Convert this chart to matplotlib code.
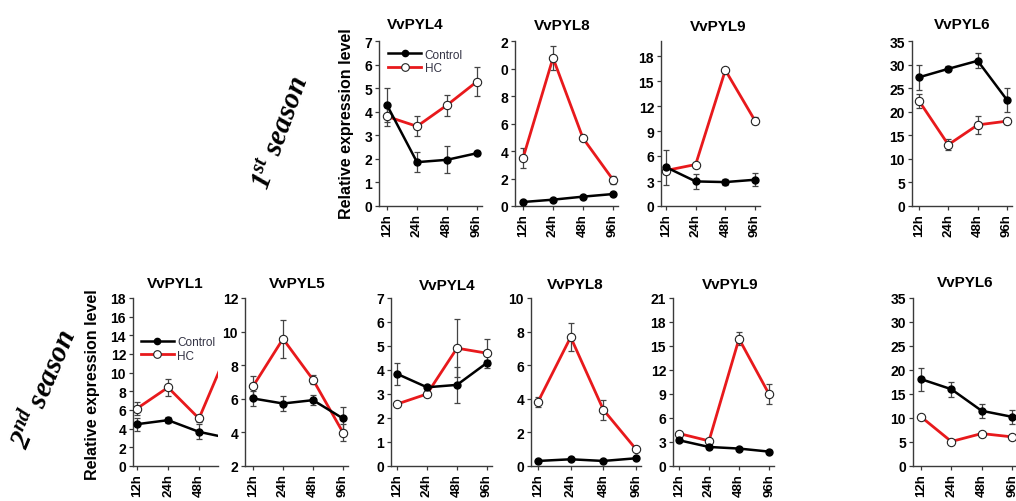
import matplotlib
matplotlib.use('Agg')
import matplotlib.pyplot as plt
from matplotlib.lines import Line2D

plt.rcParams['font.family'] = ['Liberation Sans', 'DejaVu Sans']
plt.rcParams['mathtext.fontset'] = 'custom'
plt.rcParams['mathtext.rm'] = 'Liberation Serif:bold:italic'
plt.rcParams['mathtext.it'] = 'Liberation Serif:bold:italic'
plt.rcParams['mathtext.bf'] = 'Liberation Serif:bold:italic'

# ---------------- data ----------------
times = ['12h', '24h', '48h', '96h']

# 1st season
s1_pyl4_control = [4.28, 1.86, 1.96, 2.24]
s1_pyl4_control_err = [0.72, 0.43, 0.58, 0.08]
s1_pyl4_hc = [3.80, 3.38, 4.28, 5.28]
s1_pyl4_hc_err = [0.40, 0.42, 0.45, 0.60]

s1_pyl8_control = [0.29, 0.46, 0.68, 0.87]
s1_pyl8_control_err = [0.05, 0.05, 0.06, 0.08]
s1_pyl8_hc = [3.48, 10.77, 4.93, 1.91]
s1_pyl8_hc_err = [0.75, 0.90, 0.10, 0.30]

s1_pyl9_control = [4.66, 2.95, 2.87, 3.15]
s1_pyl9_control_err = [2.10, 0.90, 0.40, 0.80]
s1_pyl9_hc = [4.26, 4.98, 16.30, 10.24]
s1_pyl9_hc_err = [0.40, 0.20, 0.20, 0.40]

s1_pyl6_control = [27.3, 29.1, 30.8, 22.5]
s1_pyl6_control_err = [2.6, 0.5, 1.6, 2.5]
s1_pyl6_hc = [22.3, 13.0, 17.2, 18.0]
s1_pyl6_hc_err = [1.5, 1.2, 1.9, 0.5]

# 2nd season
s2_pyl1_control = [4.48, 4.91, 3.66, 2.96]
s2_pyl1_control_err = [0.70, 0.30, 0.80, 0.30]
s2_pyl1_hc = [6.16, 8.42, 5.09, 12.9]
s2_pyl1_hc_err = [0.70, 0.90, 0.40, 0.50]

s2_pyl5_control = [6.02, 5.72, 5.92, 4.83]
s2_pyl5_control_err = [0.47, 0.42, 0.30, 0.70]
s2_pyl5_hc = [6.74, 9.57, 7.14, 3.99]
s2_pyl5_hc_err = [0.60, 1.15, 0.25, 0.50]

s2_pyl4_control = [3.84, 3.28, 3.38, 4.30]
s2_pyl4_control_err = [0.45, 0.10, 0.75, 0.10]
s2_pyl4_hc = [2.58, 3.00, 4.91, 4.70]
s2_pyl4_hc_err = [0.08, 0.10, 1.20, 0.60]

s2_pyl8_control = [0.30, 0.40, 0.30, 0.46]
s2_pyl8_control_err = [0.05, 0.05, 0.05, 0.05]
s2_pyl8_hc = [3.82, 7.67, 3.35, 1.00]
s2_pyl8_hc_err = [0.30, 0.85, 0.60, 0.10]

s2_pyl9_control = [3.22, 2.38, 2.18, 1.80]
s2_pyl9_control_err = [0.20, 0.20, 0.20, 0.20]
s2_pyl9_hc = [4.06, 3.14, 15.90, 9.00]
s2_pyl9_hc_err = [0.20, 0.20, 0.80, 1.20]

s2_pyl6_control = [18.1, 16.0, 11.5, 10.25]
s2_pyl6_control_err = [2.4, 1.6, 1.5, 1.4]
s2_pyl6_hc = [10.25, 5.1, 6.76, 6.07]
s2_pyl6_hc_err = [0.3, 0.3, 0.3, 0.3]

# y-axis ticks (visible labels as in the reference)
s1_pyl4_yticks = [0, 1, 2, 3, 4, 5, 6, 7]
s1_pyl8_yticks = [0, 2, 4, 6, 8, 10, 12]
s1_pyl8_ylabels = ['0', '2', '4', '6', '8', '0', '2']
s1_pyl9_yticks = [0, 3, 6, 9, 12, 15, 18]
s1_pyl6_yticks = [0, 5, 10, 15, 20, 25, 30, 35]
s2_pyl1_yticks = [0, 2, 4, 6, 8, 10, 12, 14, 16, 18]
s2_pyl5_yticks = [2, 4, 6, 8, 10, 12]
s2_pyl4_yticks = [0, 1, 2, 3, 4, 5, 6, 7]
s2_pyl8_yticks = [0, 2, 4, 6, 8, 10]
s2_pyl9_yticks = [0, 3, 6, 9, 12, 15, 18, 21]
s2_pyl6_yticks = [0, 5, 10, 15, 20, 25, 30, 35]

# ---------------- layout (pixels) ----------------
W, H = 1016, 502
fig = plt.figure(figsize=(W / 100, H / 100), dpi=100)

RED = '#e8191c'
AXC = '#3a3a3a'

panels = [
    # title, ctrl, ctrl_err, hc, hc_err, yticks, ylabels, ylim, L, a, b, R, top, bot, title_x, title_y
    ('VvPYL4', s1_pyl4_control, s1_pyl4_control_err, s1_pyl4_hc, s1_pyl4_hc_err,
     s1_pyl4_yticks, None, (0, 7), 379, 387, 477, 482, 42, 207, 415, 25),
    ('VvPYL8', s1_pyl8_control, s1_pyl8_control_err, s1_pyl8_hc, s1_pyl8_hc_err,
     s1_pyl8_yticks, s1_pyl8_ylabels, (0, 12), 515, 523, 613, 618, 42, 207, 562, 26),
    ('VvPYL9', s1_pyl9_control, s1_pyl9_control_err, s1_pyl9_hc, s1_pyl9_hc_err,
     s1_pyl9_yticks, None, (0, 19.8), 661, 666, 755, 760, 42, 207, 718, 27),
    ('VvPYL6', s1_pyl6_control, s1_pyl6_control_err, s1_pyl6_hc, s1_pyl6_hc_err,
     s1_pyl6_yticks, None, (0, 35), 912, 919, 1007, 1012, 42, 207, 962, 25),
    ('VvPYL1', s2_pyl1_control, s2_pyl1_control_err, s2_pyl1_hc, s2_pyl1_hc_err,
     s2_pyl1_yticks, None, (0, 18), 133, 137, 230, 218, 299, 467, 175, 284),
    ('VvPYL5', s2_pyl5_control, s2_pyl5_control_err, s2_pyl5_hc, s2_pyl5_hc_err,
     s2_pyl5_yticks, None, (2, 12), 245, 253, 343, 348, 299, 467, 297, 284),
    ('VvPYL4', s2_pyl4_control, s2_pyl4_control_err, s2_pyl4_hc, s2_pyl4_hc_err,
     s2_pyl4_yticks, None, (0, 7), 391, 397, 487, 492, 299, 467, 447, 286),
    ('VvPYL8', s2_pyl8_control, s2_pyl8_control_err, s2_pyl8_hc, s2_pyl8_hc_err,
     s2_pyl8_yticks, None, (0, 10), 531, 538, 636, 641, 299, 467, 575, 285),
    ('VvPYL9', s2_pyl9_control, s2_pyl9_control_err, s2_pyl9_hc, s2_pyl9_hc_err,
     s2_pyl9_yticks, None, (0, 21), 673, 679, 769, 774, 299, 467, 730, 285),
    ('VvPYL6', s2_pyl6_control, s2_pyl6_control_err, s2_pyl6_hc, s2_pyl6_hc_err,
     s2_pyl6_yticks, None, (0, 35), 913, 921, 1012, 1016, 299, 467, 965, 283),
]

xs = list(range(len(times)))
axes = []
for (title, ctrl, cerr, hc, herr, yt, yl, ylim, L, a, b, R, top, bot, tx, ty) in panels:
    ax = fig.add_axes([L / W, 1 - bot / H, (R - L) / W, (bot - top) / H])
    ax.patch.set_alpha(0)
    ax.errorbar(xs, ctrl, yerr=cerr, fmt='none', ecolor='#444444', elinewidth=0.9,
                capsize=2, capthick=0.9, zorder=2)
    ax.errorbar(xs, hc, yerr=herr, fmt='none', ecolor='#444444', elinewidth=0.9,
                capsize=2, capthick=0.9, zorder=2)
    ax.plot(xs, hc, color=RED, lw=2.0, marker='o', ms=6, mfc='white', mec='#222222',
            mew=0.8, zorder=3)
    ax.plot(xs, ctrl, color='black', lw=1.8, marker='o', ms=5, mfc='black', mec='black',
            zorder=4)
    for sp in ['top', 'right']:
        ax.spines[sp].set_visible(False)
    for sp in ['left', 'bottom']:
        ax.spines[sp].set_color(AXC)
        ax.spines[sp].set_linewidth(1.0)
    ax.set_xticks(xs)
    ax.set_xticklabels(times, rotation=90, fontsize=9.5, fontweight='bold')
    ax.set_yticks(yt)
    ax.set_yticklabels(yl if yl is not None else [str(v) for v in yt],
                       fontsize=10, fontweight='bold')
    ax.tick_params(axis='both', length=3, width=0.9, color=AXC, pad=2)
    s = (b - a) / 3.0
    ax.set_xlim(-(a - L) / s, 3 + (R - b) / s)
    ax.set_ylim(*ylim)
    fig.text(tx / W, 1 - ty / H, title, ha='center', va='center', fontsize=11,
             fontweight='bold')
    axes.append(ax)

# Legends
handles = [Line2D([], [], color='black', lw=1.8, marker='o', ms=4.5, mfc='black'),
           Line2D([], [], color=RED, lw=2.0, marker='o', ms=5.5, mfc='white', mec='#222222', mew=0.8)]
for ax in (axes[0], axes[4]):
    ax.legend(handles, ['Control', 'HC'], loc='upper left', bbox_to_anchor=(0.03, 0.99),
              frameon=False, fontsize=8.5, handlelength=2.8, handletextpad=0.3,
              labelspacing=0.15, borderaxespad=0.1, labelcolor='#333344')
axes[4].get_legend().set_bbox_to_anchor((0.02, 0.81))

# y-axis labels
fig.text(347 / W, 1 - 124 / H, 'Relative expression level', rotation=90, ha='center',
         va='center', fontsize=11.5, fontweight='bold')
fig.text(93 / W, 1 - 385 / H, 'Relative expression level', rotation=90, ha='center',
         va='center', fontsize=11.5, fontweight='bold')

# season labels
fig.text(281 / W, 1 - 133 / H, r'$1^{st}$ season', rotation=70, ha='center', va='center',
         fontsize=21, fontfamily='Liberation Serif', fontweight='bold', fontstyle='italic')
fig.text(45 / W, 1 - 390 / H, r'$2^{nd}$ season', rotation=67, ha='center', va='center',
         fontsize=21, fontfamily='Liberation Serif', fontweight='bold', fontstyle='italic')

fig.savefig('out.png', dpi=100)
